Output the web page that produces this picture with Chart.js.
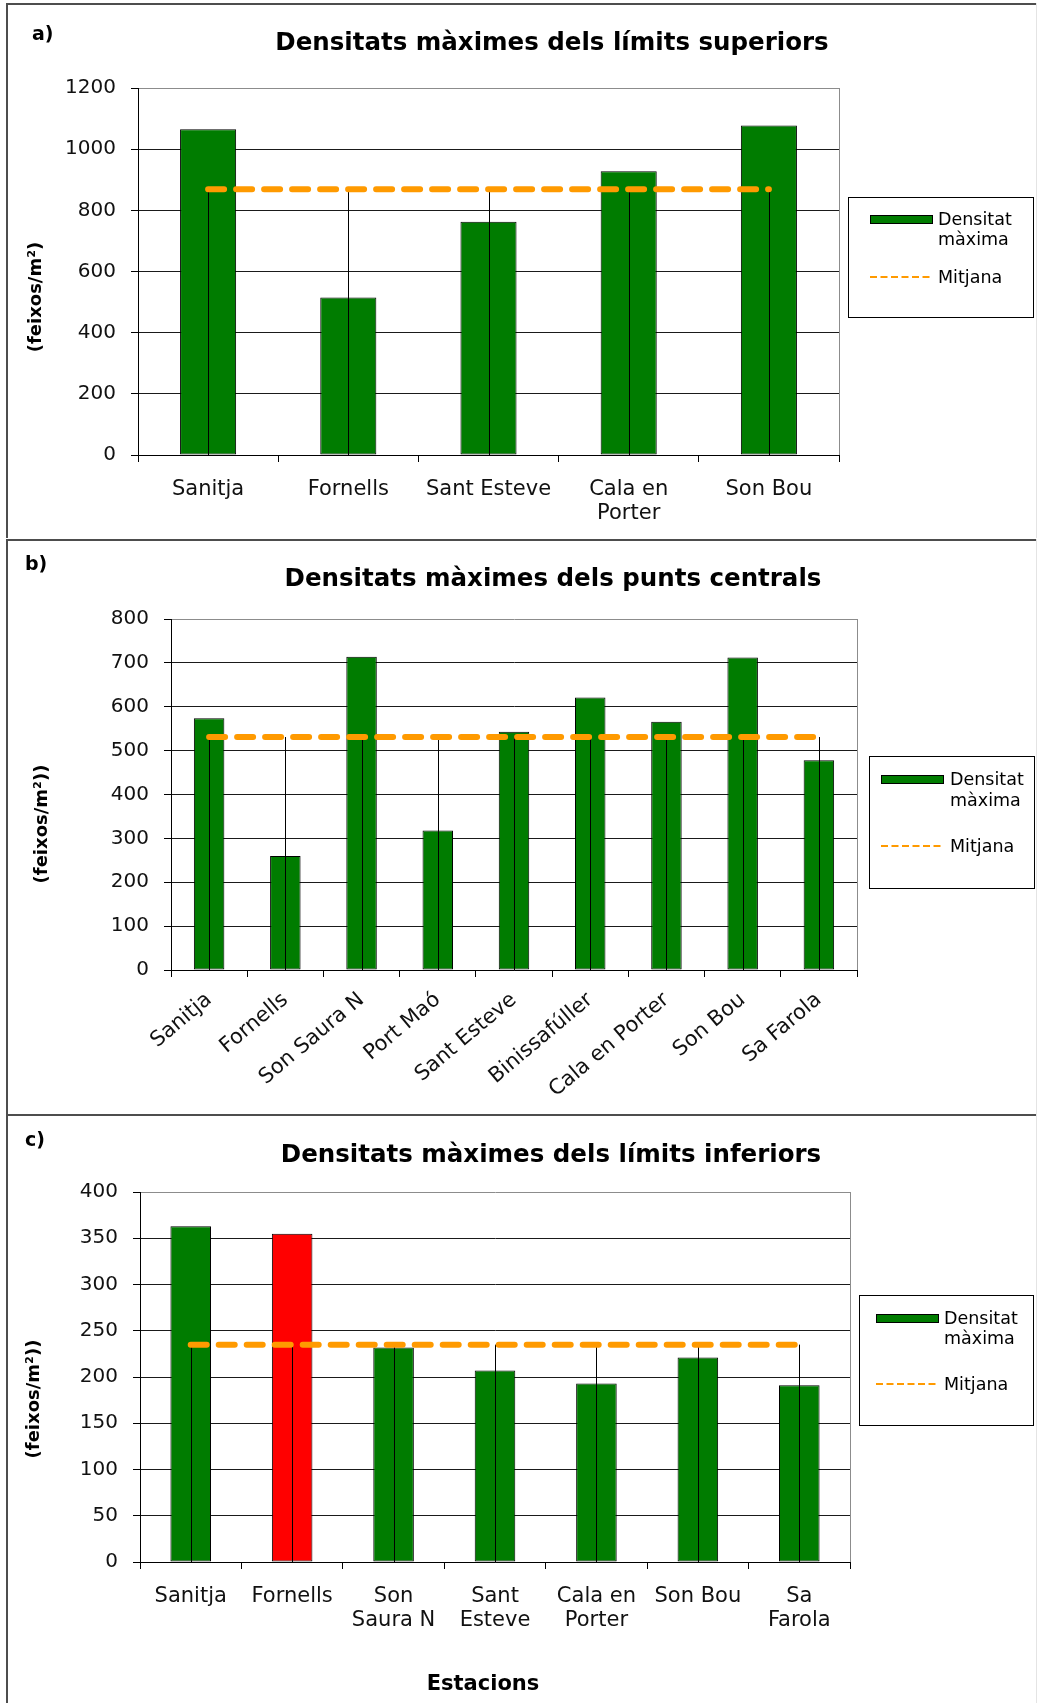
<!DOCTYPE html>
<html lang="ca">
<head>
<meta charset="utf-8">
<title>Densitats màximes</title>
<script src="https://cdn.jsdelivr.net/npm/chart.js@4.4.1/dist/chart.umd.min.js"></script>
<style>
  html, body { margin: 0; padding: 0; background: #fff; }
  #page { position: relative; width: 1037px; height: 1703px; overflow: hidden; }
  canvas { position: absolute; left: 0; display: block; }
</style>
</head>
<body>
<div id="page">
  <canvas id="chartA" width="1037" height="538" style="top:0"></canvas>
  <canvas id="chartB" width="1037" height="576" style="top:538px"></canvas>
  <canvas id="chartC" width="1037" height="589" style="top:1114px"></canvas>
</div>
<script>
// a) límits superiors
const estacionsA = ['Sanitja', 'Fornells', 'Sant Esteve', ['Cala en', 'Porter'], 'Son Bou'];
const densitatA = [1065, 515, 763, 928, 1077];
const mitjanaA = [869, 869, 869, 869, 869];
const ticksA = [0, 200, 400, 600, 800, 1000, 1200];

// b) punts centrals
const estacionsB = ['Sanitja', 'Fornells', 'Son Saura N', 'Port Maó', 'Sant Esteve',
                    'Binissafúller', 'Cala en Porter', 'Son Bou', 'Sa Farola'];
const densitatB = [574, 260, 714, 318, 543, 621, 566, 712, 478];
const mitjanaB = [531, 531, 531, 531, 531, 531, 531, 531, 531];
const ticksB = [0, 100, 200, 300, 400, 500, 600, 700, 800];

// c) límits inferiors
const estacionsC = ['Sanitja', 'Fornells', ['Son', 'Saura N'], ['Sant', 'Esteve'],
                    ['Cala en', 'Porter'], 'Son Bou', ['Sa', 'Farola']];
const densitatC = [363, 355, 232, 207, 193, 221, 191];
const mitjanaC = [235, 235, 235, 235, 235, 235, 235];
const ticksC = [0, 50, 100, 150, 200, 250, 300, 350, 400];

const FONT = '"DejaVu Sans", Verdana, sans-serif';
const GREEN = '#007c00';
const RED = '#ff0000';
const ORANGE = '#ff9a00';
const FRAME = '#4d4d4d';

Chart.defaults.font.family = FONT;

// marc, títols, línies de projecció i llegenda de cada gràfic
function decorPlugin(p) {
  return {
    id: 'decor',
    beforeDraw(chart) {
      const ctx = chart.ctx;
      const W = chart.width, H = chart.height;
      ctx.save();
      ctx.fillStyle = '#fff';
      ctx.fillRect(0, 0, W, H);
      ctx.fillStyle = FRAME;
      ctx.fillRect(6, p.frameTop, W - 6, 2);
      ctx.fillRect(6, p.frameTop, 2, H - p.frameTop);
      ctx.fillStyle = '#e4e4e4';
      ctx.fillRect(W - 1, p.frameTop, 1, H - p.frameTop);
      ctx.restore();
    },
    beforeDatasetsDraw(chart) {
      const a = chart.chartArea, ctx = chart.ctx;
      ctx.save();
      ctx.strokeStyle = '#8c8c8c';
      ctx.lineWidth = 1;
      ctx.beginPath();
      ctx.moveTo(a.right + 0.5, a.top);
      ctx.lineTo(a.right + 0.5, a.bottom);
      ctx.stroke();
      ctx.restore();
    },
    afterDatasetDraw(chart, args) {
      if (args.meta.type !== 'bar') return;
      const line = chart.getDatasetMeta(0);
      const y0 = chart.scales.y.getPixelForValue(0);
      const ctx = chart.ctx;
      ctx.save();
      ctx.strokeStyle = '#000';
      ctx.lineWidth = 1;
      line.data.forEach(pt => {
        const x = Math.round(pt.x) + 0.5;
        ctx.beginPath();
        ctx.moveTo(x, pt.y);
        ctx.lineTo(x, y0);
        ctx.stroke();
      });
      ctx.restore();
    },
    afterDraw(chart) {
      const ctx = chart.ctx;
      ctx.save();
      ctx.fillStyle = '#000';
      ctx.textBaseline = 'alphabetic';

      ctx.font = 'bold 19px ' + FONT;
      ctx.textAlign = 'left';
      ctx.fillText(p.letter, p.letterPos[0], p.letterPos[1]);

      ctx.font = 'bold 24.5px ' + FONT;
      ctx.textAlign = 'center';
      ctx.fillText(p.title, p.titlePos[0], p.titlePos[1]);

      ctx.save();
      ctx.translate(p.yTitlePos[0], p.yTitlePos[1]);
      ctx.rotate(-Math.PI / 2);
      ctx.font = 'bold 18px ' + FONT;
      ctx.textBaseline = 'middle';
      ctx.fillText(p.yTitle, 0, 0);
      ctx.restore();

      if (p.xTitle) {
        ctx.font = 'bold 21px ' + FONT;
        ctx.textBaseline = 'middle';
        ctx.fillText(p.xTitle, p.xTitlePos[0], p.xTitlePos[1]);
      }

      // llegenda
      const L = p.legend;
      ctx.strokeStyle = '#000';
      ctx.lineWidth = 1;
      ctx.strokeRect(L.x + 0.5, L.y + 0.5, L.w, L.h);
      const sx = L.x + L.sx;
      const b1 = L.y + L.rows[0];
      ctx.fillStyle = GREEN;
      ctx.fillRect(sx, b1 - 10, 62, 8);
      ctx.strokeRect(sx + 0.5, b1 - 10 + 0.5, 62, 8);
      ctx.strokeStyle = ORANGE;
      ctx.lineWidth = 2;
      ctx.setLineDash([7, 3.5]);
      ctx.beginPath();
      ctx.moveTo(sx, L.y + L.rows[2] - 6);
      ctx.lineTo(sx + 62, L.y + L.rows[2] - 6);
      ctx.stroke();
      ctx.setLineDash([]);
      ctx.fillStyle = '#000';
      ctx.font = '17.5px ' + FONT;
      ctx.textAlign = 'left';
      ctx.textBaseline = 'alphabetic';
      ctx.fillText('Densitat', L.x + L.tx, L.y + L.rows[0]);
      ctx.fillText('màxima', L.x + L.tx, L.y + L.rows[1]);
      ctx.fillText('Mitjana', L.x + L.tx, L.y + L.rows[2]);
      ctx.restore();
    }
  };
}

function drawPanel(id, p) {
  const canvas = document.getElementById(id);
  const W = canvas.width, H = canvas.height;
  const yMin = p.ticks[0];
  const yMax = p.ticks[p.ticks.length - 1];
  return new Chart(canvas, {
    type: 'bar',
    data: {
      labels: p.labels,
      datasets: [
        {
          type: 'line',
          label: 'Mitjana',
          data: p.mean,
          order: 1,
          borderColor: ORANGE,
          borderWidth: 6,
          borderDash: [16, 12],
          borderCapStyle: 'round',
          pointRadius: 0,
          fill: false,
          tension: 0
        },
        {
          type: 'bar',
          label: 'Densitat màxima',
          data: p.values,
          order: 2,
          backgroundColor: p.colors,
          borderColor: '#000',
          borderWidth: 1,
          borderSkipped: false,
          barPercentage: 0.4,
          categoryPercentage: 1
        }
      ]
    },
    options: {
      responsive: false,
      animation: false,
      events: [],
      layout: { padding: { left: 0, top: p.area.top, right: W - p.area.right, bottom: 0 } },
      plugins: {
        legend: { display: false },
        title: { display: false },
        tooltip: { enabled: false }
      },
      scales: {
        x: {
          offset: true,
          grid: { drawOnChartArea: false, drawTicks: true, tickLength: 7, tickColor: '#000', offset: true },
          border: { color: '#000', width: 1 },
          ticks: {
            color: '#111',
            font: { size: 21, lineHeight: 1.14 },
            padding: p.rotation ? 11 : 16,
            minRotation: p.rotation,
            maxRotation: p.rotation,
            autoSkip: false
          },
          afterFit(scale) { scale.height = H - p.area.bottom; }
        },
        y: {
          min: yMin,
          max: yMax,
          ticks: {
            stepSize: p.ticks[1] - p.ticks[0],
            color: '#111',
            font: { size: 20 },
            padding: 15,
            callback: v => String(v)
          },
          grid: {
            color: c => (c.tick && c.tick.value === yMax ? '#8c8c8c' : '#1a1a1a'),
            tickColor: '#000',
            tickLength: 7,
            lineWidth: 1
          },
          border: { color: '#000', width: 1 },
          afterFit(scale) { scale.width = p.area.left; }
        }
      }
    },
    plugins: [decorPlugin(p)]
  });
}

drawPanel('chartA', {
  labels: estacionsA, values: densitatA, mean: mitjanaA, ticks: ticksA,
  colors: estacionsA.map(() => GREEN),
  rotation: 0,
  area: { left: 138, top: 88, right: 839, bottom: 455 },
  frameTop: 3,
  letter: 'a)', letterPos: [32, 40],
  title: 'Densitats màximes dels límits superiors', titlePos: [552, 50],
  yTitle: '(feixos/m²)', yTitlePos: [36, 297],
  legend: { x: 848, y: 197, w: 185, h: 120, sx: 22, tx: 90, rows: [28, 48, 86] }
});

drawPanel('chartB', {
  labels: estacionsB, values: densitatB, mean: mitjanaB, ticks: ticksB,
  colors: estacionsB.map(() => GREEN),
  rotation: 40,
  area: { left: 171, top: 81, right: 857, bottom: 432 },
  frameTop: 1,
  letter: 'b)', letterPos: [25, 32],
  title: 'Densitats màximes dels punts centrals', titlePos: [553, 48],
  yTitle: '(feixos/m²))', yTitlePos: [42, 286],
  legend: { x: 869, y: 218, w: 165, h: 132, sx: 12, tx: 81, rows: [29, 50, 96] }
});

drawPanel('chartC', {
  labels: estacionsC, values: densitatC, mean: mitjanaC, ticks: ticksC,
  colors: estacionsC.map(c => (c === 'Fornells' ? RED : GREEN)),
  rotation: 0,
  area: { left: 140, top: 78, right: 850, bottom: 448 },
  frameTop: 0,
  letter: 'c)', letterPos: [25, 32],
  title: 'Densitats màximes dels límits inferiors', titlePos: [551, 48],
  yTitle: '(feixos/m²))', yTitlePos: [34, 285],
  xTitle: 'Estacions', xTitlePos: [483, 571],
  legend: { x: 859, y: 181, w: 174, h: 130, sx: 17, tx: 85, rows: [29, 49, 95] }
});
</script>
</body>
</html>
